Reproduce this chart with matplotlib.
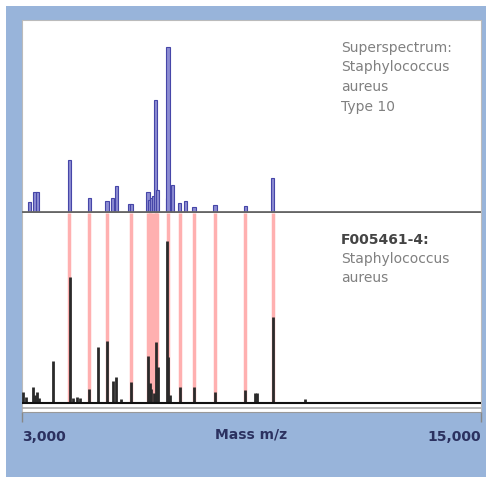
"""
MALDI-TOF spectrum comparison: superspectrum vs. sample
"""
import matplotlib
matplotlib.use("Agg")
import matplotlib.pyplot as plt
from matplotlib.patches import Rectangle

# Superspectrum peaks (m/z, relative intensity)
top_mz = [3190, 3339, 3399, 4234, 4756, 5225, 5366, 5470, 5817, 5870,
          6295, 6340, 6384, 6440, 6496, 6540, 6801, 6817, 6931, 7122,
          7270, 7495, 8043, 8843, 9556]
top_int = [10, 20, 20, 52, 14, 11, 14, 26, 8, 8,
           20, 12, 14, 16, 112, 22, 14, 165, 27, 9,
           11, 5, 7, 6, 34]

# Sample F005461-4 peaks (m/z, relative intensity)
bot_mz = [3034, 3100, 3295, 3340, 3383, 3450, 3817, 4252, 4340, 4427,
          4513, 4756, 4975, 5235, 5382, 5470, 5600, 5862, 6295, 6340,
          6384, 6440, 6496, 6556, 6801, 6817, 6870, 7122, 7495, 8051,
          8825, 9086, 9138, 9574, 10409]
bot_int = [11, 6, 16, 8, 11, 5, 42, 126, 5, 6,
           5, 14, 56, 62, 22, 26, 4, 21, 47, 20,
           14, 10, 61, 36, 162, 46, 8, 16, 16, 11,
           13, 10, 10, 86, 4]

# Peaks matched between both spectra
match_mz = [4234, 4756, 5230, 5840, 6295, 6340, 6384, 6440, 6496, 6540,
            6810, 7122, 7495, 8047, 8834, 9565]

x_min, x_max = 3000, 15000
W, H = 490, 479

fig = plt.figure(figsize=(W / 100, H / 100), dpi=100)
fig.patches.append(Rectangle((6 / W, 1 - 477 / H), 480 / W, 471 / H,
                             transform=fig.transFigure, facecolor="#98b4da",
                             edgecolor="none", zorder=-5))

left, width = 22 / W, 459 / W
ax_top = fig.add_axes([left, 1 - 213 / H, width, 193 / H])
ax_bot = fig.add_axes([left, 1 - 412 / H, width, 199 / H])

# upper spectrum
ax_top.bar(top_mz, top_int, width=85, facecolor="#8c8cd2",
           edgecolor="#4646a8", linewidth=0.8, zorder=3)
ax_top.axhline(0, color="#666666", lw=2, zorder=4)
ax_top.set_xlim(x_min, x_max)
ax_top.set_ylim(-1, 192)
ax_top.set_xticks([])
ax_top.set_yticks([])

# lower spectrum
ax_bot.vlines(match_mz, 0, 190, color="#ffb0b0", lw=2.5, zorder=1)
ax_bot.vlines(bot_mz, 0, bot_int, color="#2a2a2a", lw=2, zorder=3)
ax_bot.axhline(0, color="#111111", lw=1.5, zorder=4)
ax_bot.axhline(-5, color="#aaaaaa", lw=1.2, zorder=4)
ax_bot.set_xlim(x_min, x_max)
ax_bot.set_ylim(-9, 190)
ax_bot.set_yticks([])

for a in (ax_top, ax_bot):
    for s in a.spines.values():
        s.set_color("#bbbbbb")
        s.set_linewidth(0.8)
ax_top.spines["bottom"].set_visible(False)
ax_bot.spines["top"].set_visible(False)
ax_bot.spines["bottom"].set_color("#999999")

ax_bot.set_xticks([x_min, x_max])
ax_bot.set_xticklabels(["3,000", "15,000"], fontsize=10, fontweight="bold",
                       color="#2b3160")
ax_bot.get_xticklabels()[0].set_ha("left")
ax_bot.get_xticklabels()[1].set_ha("right")
ax_bot.tick_params(axis="x", direction="out", length=7, width=1,
                   color="#888888", pad=6)
ax_bot.set_xlabel("Mass m/z", fontsize=10, fontweight="bold",
                  color="#2b3160", labelpad=-12)

fig.text(341 / W, 1 - 41 / H,
         "Superspectrum:\nStaphylococcus\naureus\nType 10",
         fontsize=10, color="#808080", va="top", ha="left", linespacing=1.5)
fig.text(341 / W, 1 - 233 / H, "F005461-4:", fontsize=10, fontweight="bold",
         color="#444444", va="top", ha="left")
fig.text(341 / W, 1 - 252 / H, "Staphylococcus\naureus", fontsize=10,
         color="#808080", va="top", ha="left", linespacing=1.5)

fig.savefig("out.png", dpi=100)
